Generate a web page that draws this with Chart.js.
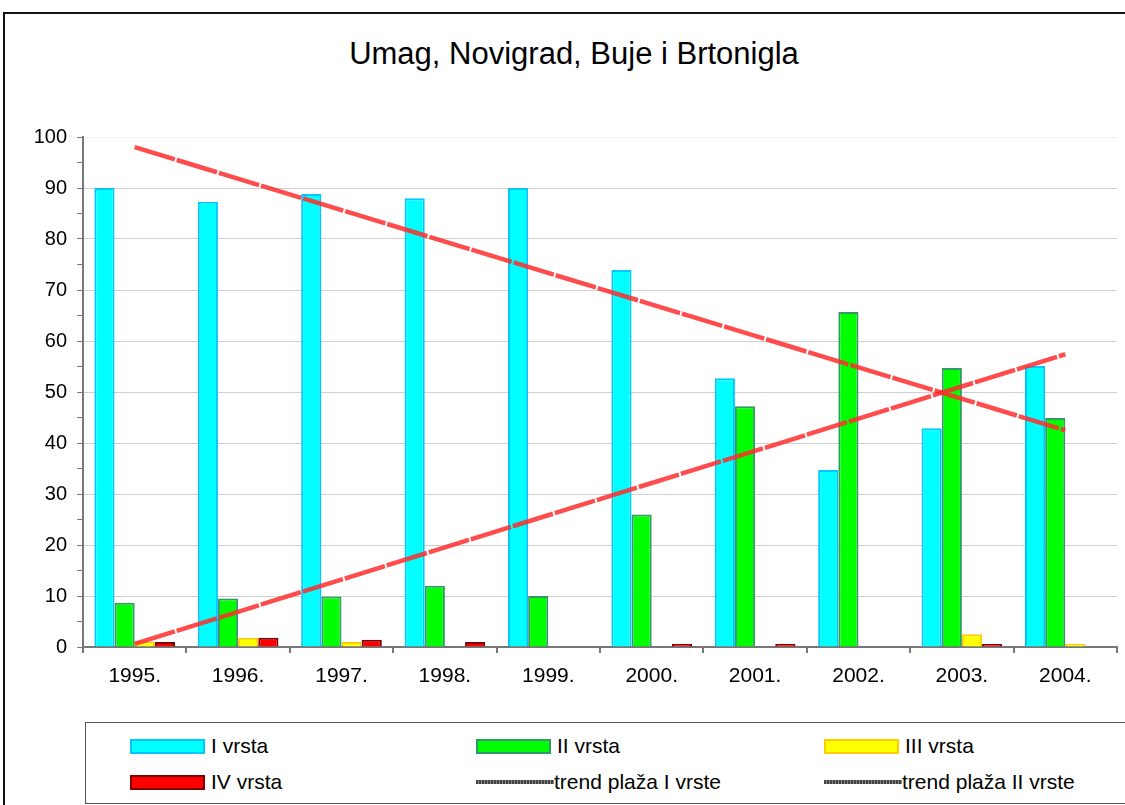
<!DOCTYPE html>
<html>
<head>
<meta charset="utf-8">
<script src="https://cdn.jsdelivr.net/npm/chart.js@4.4.1/dist/chart.umd.min.js"></script>
<style>
  html, body { margin:0; padding:0; background:#fff; }
  body { width:1125px; height:805px; position:relative; overflow:hidden; font-family:"Liberation Sans", Arial, sans-serif; }
  .frame { position:absolute; left:3px; top:12px; width:1130px; height:800px; border:2px solid #111; box-sizing:border-box; }
  .title { position:absolute; left:0; width:1148px; top:38px; text-align:center; font-size:31px; line-height:31px; color:#000; }
  .chart-wrap { position:absolute; left:0; top:0; width:1125px; height:700px; }
  .legend { position:absolute; left:85px; top:722px; width:1060px; height:82px; border:1.5px solid #555; box-sizing:border-box; }
  .item { position:absolute; height:24px; display:flex; align-items:center; font-size:21px; color:#000; white-space:nowrap; }
  .sw { width:75px; height:15px; box-sizing:border-box; border:2px solid; margin-right:6px; }
  .ln { width:78px; height:4px; margin-right:0; background:repeating-linear-gradient(90deg,#444 0 2px,#888 2px 3px); }
</style>
</head>
<body>
<div class="frame"></div>
<div class="title">Umag, Novigrad, Buje i Brtonigla</div>
<div class="chart-wrap"><canvas id="c"></canvas></div>
<div class="legend" id="legend"></div>
<script>
const years = ["1995.","1996.","1997.","1998.","1999.","2000.","2001.","2002.","2003.","2004."];
const vrstaI   = [90, 87.3, 88.8, 88, 90, 73.9, 52.7, 34.7, 42.9, 55.1];
const vrstaII  = [8.7, 9.5, 9.9, 12, 10, 26, 47.2, 65.7, 54.7, 44.9];
const vrstaIII = [1.1, 1.8, 1.0, 0, 0, 0, 0, 0, 2.5, 0.6];
const vrstaIV  = [1.0, 1.8, 1.4, 1.0, 0, 0.6, 0.6, 0, 0.6, 0];
// trend endpoints (1995 and 2004)
const trendI  = [98, null, null, null, null, null, null, null, null, 42.5];
const trendII = [0.6, null, null, null, null, null, null, null, null, 57.4];

const bars = [
  { label:"I vrsta",   data:vrstaI,   bg:"#00ffff", bd:"#00c8ff" },
  { label:"II vrsta",  data:vrstaII,  bg:"#00ff00", bd:"#339966" },
  { label:"III vrsta", data:vrstaIII, bg:"#ffff00", bd:"#ffcc00" },
  { label:"IV vrsta",  data:vrstaIV,  bg:"#ff0000", bd:"#800000" },
];

const trendStyle = { type:"line", borderColor:"rgba(255,45,45,0.85)", borderWidth:4.5, borderDash:[42,2],
  pointRadius:0, spanGaps:true, fill:false, order:0, tension:0 };

const datasets = [
  Object.assign({ label:"trend plaža I vrste", data:trendI }, trendStyle),
  Object.assign({ label:"trend plaža II vrste", data:trendII }, trendStyle),
  ...bars.map(b => ({ type:"bar", label:b.label, data:b.data, backgroundColor:b.bg, borderColor:b.bd,
    borderWidth:2, categoryPercentage:0.78, barPercentage:1, order:1 }))
];

new Chart(document.getElementById("c"), {
  data: { labels: years, datasets },
  options: {
    responsive:true, maintainAspectRatio:false, animation:false,
    layout:{ padding:{ left:0, top:137, right:8, bottom:0 } },
    plugins:{ legend:{ display:false }, title:{ display:false }, tooltip:{ enabled:false } },
    scales:{
      x:{
        grid:{ offset:true, drawOnChartArea:false, tickLength:6, tickColor:"#777", lineWidth:2 },
        border:{ color:"#777", width:2 },
        ticks:{ font:{ family:"Liberation Sans", size:21 }, color:"#000", padding:11, maxRotation:0 },
        afterFit: s => { s.height = 53; }
      },
      y:{
        min:0, max:100,
        grid:{ color: c => (c.tick && c.tick.value % 10 === 0 && c.tick.value !== 0) ? (c.tick.value === 100 ? "#eeeeee" : "#d0d0d0") : "transparent",
               tickColor:"#777", tickLength:6, lineWidth:1 },
        border:{ color:"#777", width:2 },
        ticks:{ stepSize:5, autoSkip:false, padding:10, color:"#000", font:{ family:"Liberation Sans", size:20 },
                callback: v => v % 10 === 0 ? v : "" },
        afterFit: s => { s.width = 83; }
      }
    }
  }
});

// legend: 3 columns x 2 rows inside the box
const legendItems = [
  { text:"I vrsta",   x:44,  y:11, bg:"#00ffff", bd:"#00c8ff" },
  { text:"II vrsta",  x:390, y:11, bg:"#00ff00", bd:"#339966" },
  { text:"III vrsta", x:738, y:11, bg:"#ffff00", bd:"#ffcc00" },
  { text:"IV vrsta",  x:44,  y:47, bg:"#ff0000", bd:"#800000" },
  { text:"trend plaža I vrste",  x:390, y:47, line:true },
  { text:"trend plaža II vrste", x:738, y:47, line:true },
];
const lg = document.getElementById("legend");
legendItems.forEach(it => {
  const d = document.createElement("div");
  d.className = "item";
  d.style.left = it.x + "px";
  d.style.top = it.y + "px";
  const s = document.createElement("div");
  if (it.line) { s.className = "ln"; }
  else { s.className = "sw"; s.style.background = it.bg; s.style.borderColor = it.bd; }
  const t = document.createElement("span");
  t.textContent = it.text;
  d.appendChild(s); d.appendChild(t);
  lg.appendChild(d);
});
</script>
</body>
</html>
